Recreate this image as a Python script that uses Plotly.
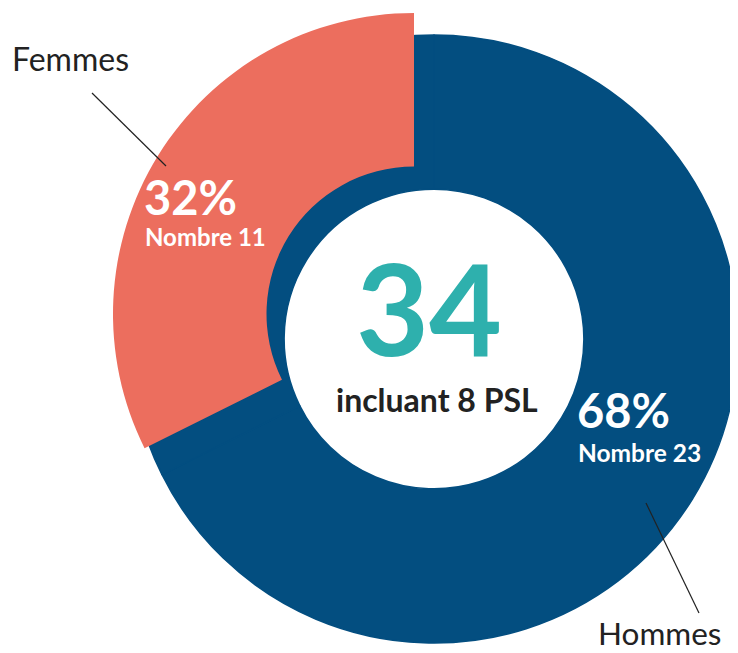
import plotly.graph_objects as go

# ---- data ----
categories = ["Hommes", "Femmes"]
counts = [23, 11]
percent_labels = ["68%", "32%"]
total_label = "34"
subtitle = "incluant 8 PSL"

# page body has an 8px margin: figure covers window pixels 8..738 / 8..653
OFF = 8
W, H = 738 - OFF, 653 - OFF
BLUE = "#034e80"
CORAL = "#ec6e5e"
TEAL = "#2eb0ad"
DARK = "#222222"

def px(x):
    return (x - OFF) / W

def py(y):
    return 1 - (y - OFF) / H

def dom(cx, cy, r):
    return dict(x=[px(cx - r), px(cx + r)], y=[py(cy + r), py(cy - r)])

fig = go.Figure()

# full blue ring underneath
fig.add_trace(go.Pie(
    labels=categories, values=counts, sort=False, direction="clockwise",
    rotation=0, hole=0.493, textinfo="none", showlegend=False,
    marker=dict(colors=[BLUE, BLUE], line=dict(width=1.5, color=BLUE)),
    domain=dom(434, 339, 304),
))

# Femmes slice on top (larger, shifted)
fig.add_trace(go.Pie(
    labels=categories, values=counts, sort=False, direction="clockwise",
    rotation=0, hole=0.49, textinfo="none", showlegend=False,
    marker=dict(colors=["rgba(0,0,0,0)", CORAL], line=dict(width=0)),
    domain=dom(414, 314, 301),
))

ann = []
def text(x, y, s, size, color, xanchor="left", family="Lato"):
    ann.append(dict(x=px(x), y=py(y), xref="paper", yref="paper", text=s,
                    showarrow=False, xanchor=xanchor, yanchor="middle",
                    font=dict(size=size, color=color, family=family)))

text(142, 197, "<b>" + percent_labels[1] + "</b>", 47, "white")
text(143, 236, "<b>Nombre " + str(counts[1]) + "</b>", 24, "white")
text(575, 410, "<b>" + percent_labels[0] + "</b>", 47, "white")
text(576, 452, "<b>Nombre " + str(counts[0]) + "</b>", 24.5, "white")
text(429, 308, "<b>" + total_label + "</b>", 126, TEAL, xanchor="center")
text(437, 399, "<b>" + subtitle + "</b>", 32, DARK, xanchor="center")
text(10, 58, categories[1], 32, DARK)
text(596, 633, categories[0], 31.5, DARK)

fig.update_layout(
    width=W, height=H, margin=dict(l=0, r=0, t=0, b=0),
    paper_bgcolor="white", plot_bgcolor="white", showlegend=False,
    annotations=ann,
    shapes=[
        dict(type="line", xref="paper", yref="paper", x0=px(92), y0=py(93), x1=px(166), y1=py(166),
             line=dict(color=DARK, width=1.2)),
        dict(type="line", xref="paper", yref="paper", x0=px(646), y0=py(503), x1=px(699), y1=py(613),
             line=dict(color=DARK, width=1.2)),
    ],
)

fig.write_html("out.html")
